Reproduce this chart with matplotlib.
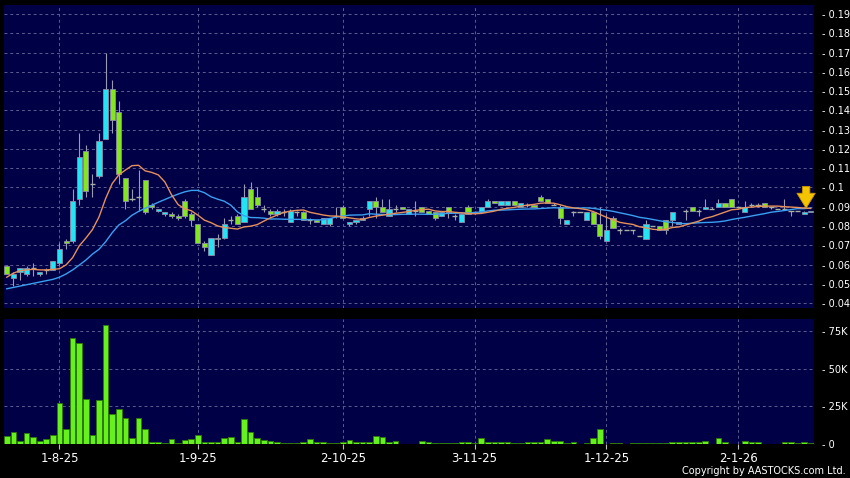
import numpy as np
import pandas as pd
import matplotlib
matplotlib.use("Agg")
import matplotlib.pyplot as plt

# ---------------- data ----------------
opens = [.059, .053, .056, .055, .058, .055, .057, .057, .061, .072,
         .072, .094, .119, .102, .106, .125, .151, .139, .105, .094,
         .095, .104, .091, .088, .086, .086, .085, .093, .086, .081,
         .071, .065, .074, .074, .083, .085, .082, .099, .095, .089,
         .088, .086, .087, .082, .087, .087, .083, .083, .081, .081,
         .085, .090, .081, .082, .083, .089, .093, .090, .085, .089,
         .090, .086, .088, .090, .088, .087, .085, .090, .085, .082,
         .090, .087, .087, .090, .093, .091, .091, .093, .090, .091,
         .091, .095, .094, .091, .090, .081, .087, .087, .083, .087,
         .081, .072, .084, .078, .078, .078, .075, .073, .080, .080,
         .083, .083, .081, .088, .090, .088, .089, .089, .090, .092,
         .094, .090, .087, .091, .091, .092, .090, .089, .089, .088,
         .088, .086, .087]
highs = [.060, .056, .058, .059, .061, .056, .058, .062, .071, .073,
         .099, .128, .122, .107, .128, .170, .156, .145, .105, .099,
         .109, .104, .092, .089, .087, .087, .086, .094, .087, .081,
         .072, .074, .076, .084, .085, .086, .102, .103, .100, .091,
         .089, .089, .089, .089, .088, .088, .084, .083, .084, .084,
         .090, .091, .082, .083, .085, .093, .095, .094, .094, .091,
         .090, .089, .093, .090, .088, .087, .087, .090, .086, .086,
         .091, .088, .090, .094, .093, .093, .093, .093, .092, .092,
         .091, .096, .094, .092, .091, .083, .088, .087, .087, .087,
         .090, .086, .085, .079, .078, .078, .075, .083, .080, .080,
         .083, .087, .082, .089, .090, .089, .094, .090, .094, .092,
         .094, .090, .093, .092, .092, .092, .090, .089, .094, .088,
         .088, .088, .088]
lows = [.055, .049, .052, .054, .054, .054, .055, .057, .060, .068,
        .071, .091, .095, .095, .105, .125, .128, .102, .089, .093,
        .088, .086, .089, .087, .085, .084, .083, .084, .080, .071,
        .067, .065, .069, .073, .081, .081, .082, .089, .090, .087,
        .085, .085, .085, .082, .085, .083, .081, .082, .081, .080,
        .084, .084, .080, .081, .083, .085, .084, .087, .085, .087,
        .089, .086, .085, .087, .086, .083, .085, .084, .083, .082,
        .086, .086, .087, .090, .092, .091, .091, .091, .090, .090,
        .090, .093, .092, .091, .081, .081, .085, .087, .083, .081,
        .073, .072, .079, .076, .078, .076, .075, .073, .080, .078,
        .076, .080, .081, .083, .088, .085, .089, .089, .090, .090,
        .090, .090, .087, .090, .090, .090, .089, .089, .089, .085,
        .088, .086, .087]
closes = [.055, .055, .058, .058, .058, .056, .057, .062, .068, .071,
          .093, .116, .098, .102, .124, .151, .135, .107, .093, .094,
          .095, .087, .090, .089, .087, .085, .084, .085, .083, .071,
          .069, .074, .073, .081, .083, .081, .095, .089, .091, .089,
          .086, .088, .087, .088, .087, .083, .083, .082, .084, .084,
          .085, .084, .082, .083, .084, .093, .090, .087, .089, .089,
          .089, .089, .088, .087, .086, .084, .087, .087, .085, .086,
          .086, .087, .090, .093, .092, .093, .093, .091, .092, .091,
          .090, .093, .092, .091, .084, .083, .087, .087, .087, .081,
          .075, .078, .079, .078, .078, .078, .075, .081, .080, .078,
          .078, .087, .082, .088, .088, .088, .090, .089, .092, .090,
          .090, .090, .090, .091, .091, .090, .090, .089, .089, .088,
          .088, .087, .088]
volumes_k = [4.9, 7.4, 1.6, 7.1, 4.5, 1.8, 2.7, 6.0, 26.8, 9.6,
             70.4, 67.5, 29.5, 6.0, 29.0, 79.3, 19.7, 23.2, 17.2, 4.0,
             17.0, 9.4, 1.3, 0.9, 0.2, 2.7, 0.4, 2.2, 3.1, 5.6,
             0.7, 1.3, 0.9, 3.6, 4.5, 1.3, 16.5, 7.4, 3.4, 2.2,
             1.8, 1.3, 0.4, 0.4, 0.4, 0.9, 2.7, 0.7, 0.7, 0.2,
             0.2, 0.7, 2.5, 0.7, 0.7, 0.7, 4.9, 4.2, 1.1, 2.0,
             0.0, 0.0, 0.0, 2.0, 1.1, 0.4, 0.2, 0.2, 0.2, 0.7,
             0.7, 0.2, 3.6, 1.3, 0.7, 1.1, 1.1, 0.2, 0.2, 1.1,
             1.3, 0.7, 2.7, 2.0, 1.6, 0.2, 0.7, 0.0, 0.2, 4.0,
             10.0, 0.0, 0.2, 0.2, 0.0, 0.1, 0.1, 0.3, 0.1, 0.2,
             0.2, 0.7, 0.7, 0.7, 0.9, 0.9, 1.6, 0.0, 3.6, 0.9,
             0.0, 0.0, 2.0, 0.7, 0.7, 0.0, 0.0, 0.0, 1.3, 0.7,
             0.2, 0.7, 0.2]
# moving-average values read off the chart where the window has no history yet
ma10_lead = [.0534, .0555, .0568, .0572, .0575, .0572, .0572, .0575, .0578]
ma20_lead = [.0474, .0481, .0488, .0495, .0502, .0509, .0516, .0523, .0534, .0551,
             .0572, .0597, .0623, .0654, .0679, .0718, .0765, .0805, .0827]

date_tick_idx = [8, 29, 51, 71, 91, 111]
date_tick_labels = ["1-8-25", "1-9-25", "2-10-25", "3-11-25", "1-12-25", "2-1-26"]
price_ticks = [0.04, 0.05, 0.06, 0.07, 0.08, 0.09, 0.10, 0.11, 0.12,
               0.13, 0.14, 0.15, 0.16, 0.17, 0.18, 0.19]
vol_ticks = [0, 25000, 50000, 75000]
vol_tick_labels = ["0", "25K", "50K", "75K"]

# ---------------- styling ----------------
BG = "#000046"
GRID = "#5c5c90"
CYAN = "#22e4f2"
GREEN = "#84e61c"
WICK = "#9a9ab0"
EDGE = "#8c8ca8"
VOL = "#66f01c"
VOL_EDGE = "#2e7a06"
ORANGE = "#e8905a"
BLUE = "#3aa0f0"

o = np.array(opens); h = np.array(highs); l = np.array(lows); c = np.array(closes)
n = len(c)
x = np.arange(n)
vol = np.array(volumes_k) * 1000

ma10 = pd.Series(c).rolling(10).mean().to_numpy()
ma10[:len(ma10_lead)] = ma10_lead
ma20 = pd.Series(c).rolling(20).mean().to_numpy()
ma20[:len(ma20_lead)] = ma20_lead

fig = plt.figure(figsize=(8.5, 4.78), dpi=100, facecolor="black")
W, H = 850, 478
ax = fig.add_axes([4 / W, 1 - 308 / H, 810 / W, 303 / H])
axv = fig.add_axes([4 / W, 1 - 443.5 / H, 810 / W, 124.5 / H], sharex=ax)

for a in (ax, axv):
    a.set_facecolor(BG)
    for s in a.spines.values():
        s.set_visible(False)
    a.set_axisbelow(True)

xl = (-0.42, 122.5)
ax.set_xlim(*xl)
ax.set_ylim(0.03743, 0.19467)
axv.set_ylim(0, 83300)

# grids
for a, ticks in ((ax, price_ticks), (axv, vol_ticks[1:])):
    for t in ticks:
        a.axhline(t, color=GRID, lw=0.7, dashes=(3, 3), zorder=0)
    for t in date_tick_idx:
        a.axvline(t, color=GRID, lw=0.7, dashes=(3, 3), zorder=0)

# candles
up = c > o
down = c < o
flat = c == o
ax.vlines(x, l, h, color=WICK, lw=0.8, zorder=2)
bw = 0.78
ax.bar(x[up], (c - o)[up], bottom=o[up], width=bw, color=CYAN,
       edgecolor=EDGE, linewidth=0.6, zorder=3)
ax.bar(x[down], (o - c)[down], bottom=c[down], width=bw, color=GREEN,
       edgecolor=EDGE, linewidth=0.6, zorder=3)
ax.hlines(c[flat], x[flat] - bw / 2, x[flat] + bw / 2, color="#a8b0a0", lw=1.0, zorder=3)

# moving averages
ax.plot(x, ma20, color=BLUE, lw=1.0, zorder=4)
ax.plot(x, ma10, color=ORANGE, lw=1.0, zorder=4)

# last-price arrow
ax.annotate("", xy=(x[-1] - 0.7, h[-1] + 0.0012), xytext=(x[-1] - 0.7, h[-1] + 0.0125),
            arrowprops=dict(arrowstyle="simple,head_width=1.1,head_length=0.9,tail_width=0.45",
                            mutation_scale=12, shrinkA=0, shrinkB=0,
                            fc="#f5c400", ec="#c89200", lw=0.6), zorder=6)

# volume
axv.bar(x, vol, width=0.86, color=VOL, edgecolor=VOL_EDGE, linewidth=0.6, zorder=3)

# ticks
ax.tick_params(axis="x", which="both", bottom=False, labelbottom=False)
for a, ticks, labels in ((ax, price_ticks, ["- %g" % t for t in price_ticks]),
                         (axv, vol_ticks, ["- " + s for s in vol_tick_labels])):
    a.yaxis.tick_right()
    a.set_yticks(ticks)
    a.set_yticklabels(labels)
    a.tick_params(axis="y", length=0, pad=6, labelsize=7, labelcolor="white")

axv.set_xticks(date_tick_idx)
axv.set_xticklabels(date_tick_labels)
axv.tick_params(axis="x", length=3.5, width=0.8, color="#c0c0c0", pad=2.5,
                labelsize=8.5, labelcolor="white")
ax.set_xlim(*xl)

fig.text(846 / W, 1 - 471.5 / H, "Copyright by AASTOCKS.com Ltd.", color="white",
         fontsize=7, ha="right", va="center")

fig.savefig("out.png", dpi=100, facecolor="black")
